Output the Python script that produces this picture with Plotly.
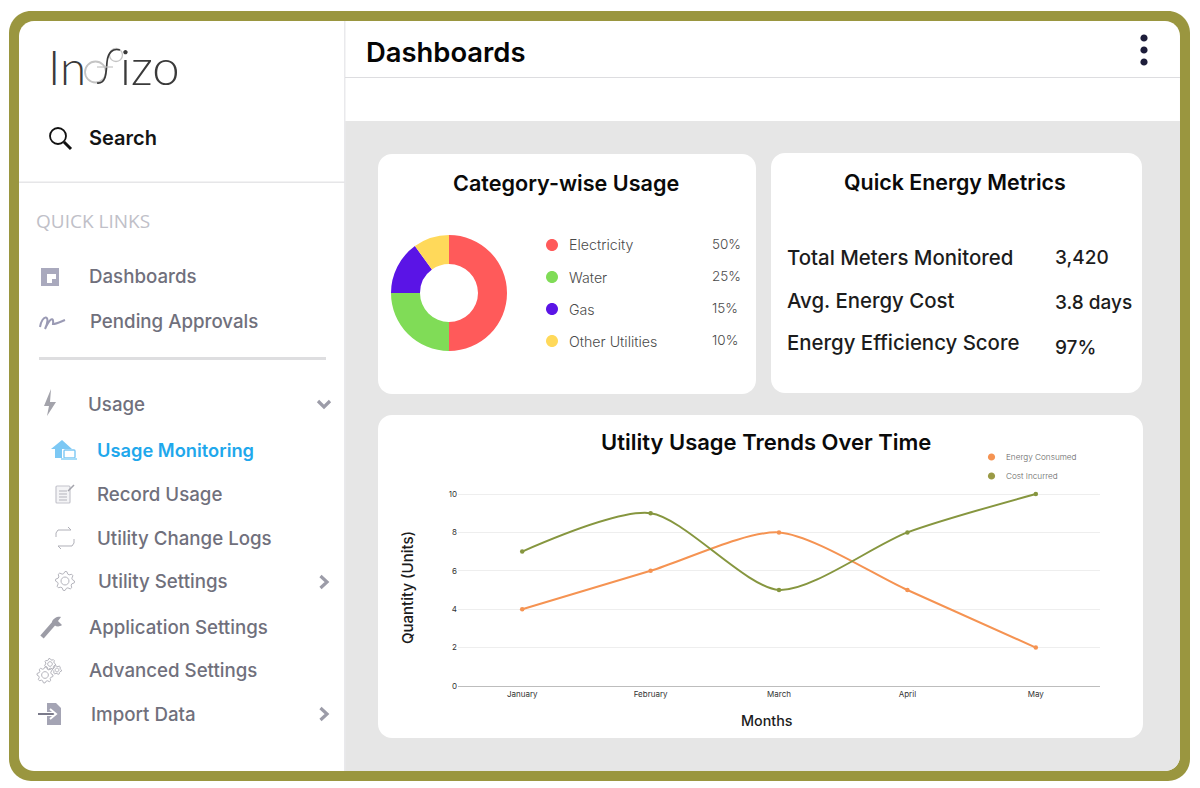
import math
import plotly.graph_objects as go

W, H = 1200, 788
FONT = "Inter"

# ---- data ----
usage_categories = ["Electricity", "Water", "Gas", "Other Utilities"]
usage_values = [50, 25, 15, 10]
usage_colors = ["#ff5a5a", "#80dc57", "#5a14e6", "#ffd95a"]

months = ["January", "February", "March", "April", "May"]
energy_consumed = [4, 6, 8, 5, 2]
cost_incurred = [7, 9, 5, 8, 10]

metric_names = ["Total Meters Monitored", "Avg. Energy Cost", "Energy Efficiency Score"]
metric_values = ["3,420", "3.8 days", "97%"]

# ---- helpers ----
def px(x): return x / W
def py(y): return 1 - y / H
def P(x, y): return f"{px(x):.5f},{py(y):.5f}"

shapes, notes = [], []

def path(d, fill=None, line=None, lw=1, layer="below"):
    s = dict(type="path", xref="paper", yref="paper", path=d, layer=layer)
    s["fillcolor"] = fill if fill else "rgba(0,0,0,0)"
    s["line"] = dict(color=line, width=lw) if line else dict(width=0)
    shapes.append(s)

def poly(pts, close=True):
    return "M" + " L".join(P(*p) for p in pts) + (" Z" if close else "")

def rrect(x0, y0, x1, y1, r, **kw):
    k = r * 0.448
    d = (f"M{P(x0+r,y0)} L{P(x1-r,y0)} C{P(x1-k,y0)} {P(x1,y0+k)} {P(x1,y0+r)} "
         f"L{P(x1,y1-r)} C{P(x1,y1-k)} {P(x1-k,y1)} {P(x1-r,y1)} "
         f"L{P(x0+r,y1)} C{P(x0+k,y1)} {P(x0,y1-k)} {P(x0,y1-r)} "
         f"L{P(x0,y0+r)} C{P(x0,y0+k)} {P(x0+k,y0)} {P(x0+r,y0)} Z")
    path(d, **kw)

def circle(cx, cy, r, **kw):
    rrect(cx - r, cy - r, cx + r, cy + r, r, **kw)

def rect(x0, y0, x1, y1, fill):
    path(poly([(x0, y0), (x1, y0), (x1, y1), (x0, y1)]), fill=fill)

def gear(cx, cy, r, teeth=8, color="#b4b4bc", lw=1):
    pts = []
    for i in range(teeth * 4):
        a = 2 * math.pi * i / (teeth * 4)
        rr = r if i % 4 in (0, 1) else r * 0.78
        pts.append((cx + rr * math.cos(a), cy + rr * math.sin(a)))
    path(poly(pts), line=color, lw=lw)
    circle(cx, cy, r * 0.42, line=color, lw=lw)

def txt(x, y, s, size, color="#6b6b78", anchor="left", weight=500, angle=0, font=FONT):
    notes.append(dict(xref="paper", yref="paper", x=px(x), y=py(y), text=s, showarrow=False,
                      xanchor=anchor, yanchor="middle", textangle=angle,
                      font=dict(family=font, size=size, color=color, weight=weight),
                      borderpad=0, borderwidth=0))

# ---- frame ----
OLIVE = "#9a963f"
rrect(9, 11, 1190, 781, 22, fill=OLIVE)
rrect(19, 21, 1180, 771, 15, fill="#ffffff")
# main grey panel
k = 15 * 0.448
path(f"M{P(345,121)} L{P(1180,121)} L{P(1180,756)} C{P(1180,771-k)} {P(1180-k,771)} {P(1165,771)} L{P(345,771)} Z",
     fill="#e6e6e6")
rect(344, 21, 345.5, 771, "#e9e9ec")
rect(345, 77, 1180, 78, "#dddde0")
rect(19, 181.5, 345, 183, "#e6e6e8")
rect(39, 357, 326, 360, "#dedee0")

# cards
rrect(378, 154, 756, 394, 14, fill="#ffffff")
rrect(771, 153, 1142, 393, 14, fill="#ffffff")
rrect(378, 415, 1143, 738, 14, fill="#ffffff")

# kebab
for yy in (38, 50, 62):
    circle(1144, yy, 3.6, fill="#1d1d3a")

# ---- logo ----
circle(95.5, 72, 10.5, line="#c4c4c4", lw=1.8)
circle(116, 55, 6.5, line="#c4c4c4", lw=1.3)
LOGO = "#3a3a3a"
path(f"M{P(97,83)} C{P(106,84)} {P(106,74)} {P(107,62)} C{P(108,52)} {P(113,48)} {P(120,50)}", line=LOGO, lw=1.7)
path(poly([(97, 67), (113, 67)], False), line="#c4c4c4", lw=1.2)
txt(47.5, 66.5, "In", 47.5, color=LOGO, weight=300, font="Lato")
txt(120, 66, "izo", 49, color=LOGO, weight=300, font="Lato")

# ---- sidebar icons ----
ICON = "#a9a9bd"
circle(58, 136, 8, line="#111111", lw=1.8)
path(poly([(64, 142), (71, 149)], False), line="#111111", lw=3)

# dashboards
rect(41, 268, 59, 286, ICON)
path(poly([(47, 274), (56, 274), (56, 279), (52, 279), (52, 283), (47, 283)]), fill="#ffffff")
# signature
path(f"M{P(40,327)} C{P(42,314)} {P(52,314)} {P(45,329)} C{P(50,318)} {P(54,316)} {P(53,324)} C{P(56,324)} {P(60,322)} {P(65,320)}",
     line="#9a9ab4", lw=2)
# bolt
path(poly([(51, 389), (44, 406), (49, 406), (47, 416), (56, 402), (50, 402)]), fill="#a3a3ab")
# chevrons
CH = "#9c9ca8"
path(poly([(318, 401), (324, 407), (330, 401)], False), line=CH, lw=3.2)
for yy in (582, 714):
    path(poly([(320.5, yy - 6), (327, yy), (320.5, yy + 6)], False), line=CH, lw=3.2)
# house + laptop
path(poly([(51, 449), (62, 440), (72, 449), (69, 449), (69, 458), (55, 458), (55, 449)]), fill="#7cc8f4")
rect(62, 449, 75, 458, "#ffffff")
rrect(64, 450, 75, 458, 1, line="#7cc8f4", lw=1.4)
rect(61, 458, 77, 460, "#a6dcf8")
# notepad
rrect(56, 486, 70, 503, 1, fill="#f4f4f6", line="#c4c4cc", lw=1.2)
for yy in (491, 494, 497, 500):
    path(poly([(59, yy), (67, yy)], False), line="#b4b4bc", lw=1)
path(poly([(68, 491), (74, 485)], False), line="#a4a4ac", lw=1.5)
# swap arrows
path(poly([(71, 530), (58, 530), (56, 533), (56, 537)], False), line="#b0b0b8", lw=1)
path(poly([(71, 530), (68, 527)], False), line="#b0b0b8", lw=1)
path(poly([(74, 539), (74, 543), (72, 546), (58, 546)], False), line="#b0b0b8", lw=1)
path(poly([(58, 546), (61, 549)], False), line="#b0b0b8", lw=1)
gear(65, 581, 9.5, teeth=8)
# wrench
path(poly([(42, 637), (56, 621)], False), line="#9c9ca6", lw=4.5)
path(f"M{P(52,622)} C{P(53,618)} {P(58,616)} {P(61,617)} L{P(58,621)} L{P(62,625)} C{P(58,628)} {P(54,626)} {P(52,622)} Z",
     fill="#9c9ca6")
gear(45, 675, 8, teeth=8)
gear(50, 664, 5.5, teeth=7)
gear(57, 670, 4.5, teeth=6)
# import
path(poly([(47, 703), (56, 703), (61, 708), (61, 725), (47, 725)]), fill="#a4a4b4")
path(poly([(38, 714), (54, 714)], False), line="#ffffff", lw=4)
path(poly([(38, 714), (54, 714)], False), line="#7a7a8a", lw=2)
path(poly([(50, 709), (56, 714), (50, 719)], False), line="#ffffff", lw=2)

# ---- sidebar text ----
txt(89, 138, "Search", 20, color="#141414", weight=600)
txt(36, 221, "QUICK LINKS", 19, color="#c0c0c8", weight=400, font="Open Sans")
side = [("Dashboards", 89, 276), ("Pending Approvals", 90, 321), ("Usage", 88, 404),
        ("Record Usage", 97, 494), ("Utility Change Logs", 97, 538), ("Utility Settings", 98, 581),
        ("Application Settings", 89, 627), ("Advanced Settings", 89, 670), ("Import Data", 91, 714)]
for s, x, y in side:
    txt(x, y, s, 18.7, color="#70707c", weight=500)
txt(97, 450, "Usage Monitoring", 18.3, color="#1fa8ec", weight=600)

# ---- header & titles ----
txt(366, 52, "Dashboards", 27.4, color="#050505", weight=600)
txt(566, 183, "Category-wise Usage", 21.6, color="#0a0a0a", weight=600, anchor="center")
txt(955, 182, "Quick Energy Metrics", 21.4, color="#0a0a0a", weight=600, anchor="center")
txt(765.5, 442, "Utility Usage Trends Over Time", 22, color="#0a0a0a", weight=600, anchor="center")

# ---- metrics ----
for name, val, y1, y2 in zip(metric_names, metric_values, (257, 301, 343), (258, 302, 347)):
    txt(787, y1, name, 20.4, color="#1c1c1c", weight=500)
    txt(1055, y2, val, 19, color="#1c1c1c", weight=500)

# ---- donut legend ----
for c, v, col, y, yp in zip(usage_categories, usage_values, usage_colors, (245, 277, 309, 341), (244, 276, 308, 340)):
    circle(552, y, 6, fill=col)
    txt(568.5, y, c, 14.2, color="#4a4a4a", weight=300)
    txt(712, yp, f"{v}%", 13.5, color="#4a4a4a", weight=300)

# ---- line legend ----
LEG_ORANGE, LEG_OLIVE = "#f59352", "#9a9a45"
for name, col, y in (("Energy Consumed", LEG_ORANGE, 457), ("Cost Incurred", LEG_OLIVE, 476)):
    circle(991.5, y, 3.6, fill=col)
    txt(1005.5, y, name, 8.2, color="#666666", weight=300)

# axis titles
txt(767, 720.5, "Months", 14.3, color="#1c1c1c", weight=500, anchor="center")
txt(407, 588, "Quantity (Units)", 15, color="#1c1c1c", weight=500, anchor="center", angle=-90)

# ---- figure ----
fig = go.Figure()
fig.add_trace(go.Pie(labels=usage_categories, values=usage_values, hole=0.5, sort=False,
                     direction="clockwise", rotation=0, textinfo="none", showlegend=False,
                     marker=dict(colors=usage_colors, line=dict(width=0)),
                     domain=dict(x=[px(391), px(507)], y=[py(351), py(235)])))
fig.add_trace(go.Scatter(x=months, y=energy_consumed, mode="lines+markers", name="Energy Consumed",
                         line=dict(color="#f59352", width=2, shape="spline", smoothing=0.75),
                         marker=dict(size=4.5, color="#f59352"), showlegend=False, cliponaxis=False))
fig.add_trace(go.Scatter(x=months, y=cost_incurred, mode="lines+markers", name="Cost Incurred",
                         line=dict(color="#86963f", width=2, shape="spline", smoothing=0.75),
                         marker=dict(size=4.5, color="#86963f"), showlegend=False, cliponaxis=False))

fig.update_layout(
    width=W, height=H, autosize=False, margin=dict(l=0, r=0, t=0, b=0, pad=0, autoexpand=False),
    paper_bgcolor="#ffffff", plot_bgcolor="rgba(0,0,0,0)",
    shapes=shapes, annotations=notes, showlegend=False,
    font=dict(family=FONT),
    xaxis=dict(domain=[px(458), px(1100)], type="category", categoryorder="array", categoryarray=months,
               range=[-0.5, 4.5], showgrid=False, showline=True, linecolor="#bdbdbd", linewidth=1,
               ticks="", tickfont=dict(size=8, color="#333333", family=FONT), zeroline=False, anchor="y"),
    yaxis=dict(domain=[py(686), py(492.08)], range=[0, 10.1], tickvals=[0, 2, 4, 6, 8, 10],
               showgrid=True, gridcolor="#eeeeee", gridwidth=1, zeroline=False, showline=False,
               ticks="", tickfont=dict(size=8, color="#333333", family=FONT), anchor="x"),
)

fig.write_html("out.html", config=dict(displayModeBar=False),
               post_script="document.body.style.margin='0';document.documentElement.style.overflow='hidden';")
